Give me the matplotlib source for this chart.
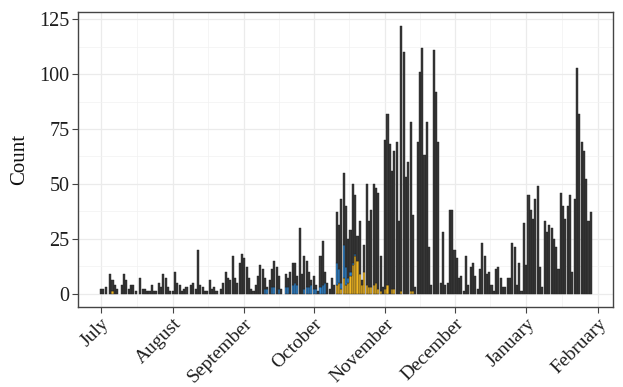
import matplotlib
matplotlib.use("Agg")
import matplotlib.pyplot as plt
import matplotlib.dates as mdates
import numpy as np
import pandas as pd

plt.rcParams['font.family'] = ['Liberation Serif', 'DejaVu Serif']

# daily totals, one list per month (July -> January)
jul = [2, 2, 3, 0, 9, 6, 4, 2, 0, 4, 9, 6, 2, 4, 4, 1, 0, 7, 2, 2, 1, 1, 4, 1, 1, 5, 3, 9, 7, 3, 1]
aug = [1, 10, 5, 4, 1, 2, 3, 0, 4, 5, 2, 20, 4, 3, 1, 1, 6, 2, 3, 1, 0, 2, 5, 10, 7, 6, 17, 7, 5, 14, 18]
sep = [16, 12, 7, 2, 1, 4, 8, 13, 11, 7, 3, 6, 11, 15, 12, 8, 2, 0, 9, 7, 10, 14, 14, 8, 30, 9, 17, 15, 10, 6]
oct_ = [8, 4, 1, 17, 24, 10, 5, 2, 7, 4, 37, 31, 43, 55, 40, 25, 29, 50, 45, 26, 33, 6, 22, 50, 33, 38, 50, 48,
        46, 17, 3]
nov = [70, 82, 68, 56, 65, 69, 33, 122, 110, 53, 60, 78, 36, 3, 69, 101, 112, 63, 78, 21, 4, 111, 92, 69, 5, 28,
       4, 5, 38, 38]
dec = [20, 16, 7, 8, 1, 17, 4, 12, 14, 8, 2, 11, 23, 17, 9, 10, 4, 1, 11, 12, 7, 3, 3, 7, 7, 23, 21, 4, 14, 1, 32]
jan = [13, 45, 38, 34, 43, 49, 12, 3, 33, 28, 31, 30, 25, 21, 11, 46, 40, 34, 40, 45, 10, 43, 103, 82, 69, 65,
       52, 33, 37]

# coloured sub-counts
blue_dates = ["2020-09-10", "2020-09-11", "2020-09-13", "2020-09-14", "2020-09-16", "2020-09-19", "2020-09-20",
              "2020-09-22", "2020-09-23", "2020-09-24", "2020-09-27", "2020-09-28", "2020-09-29", "2020-09-30",
              "2020-10-01", "2020-10-02", "2020-10-04", "2020-10-05", "2020-10-06",
              "2020-10-11", "2020-10-12", "2020-10-13", "2020-10-14", "2020-10-15", "2020-10-16", "2020-10-17",
              "2020-10-18", "2020-10-19"]
blue_counts = [2, 2, 3, 3, 2, 3, 3, 4, 5, 4, 2, 3, 3, 4, 2, 2, 3, 4, 5,
               10, 6, 3, 15, 8, 2, 2, 1, 1]
yellow_dates = ["2020-07-06", "2020-10-11", "2020-10-12", "2020-10-13", "2020-10-14", "2020-10-15", "2020-10-16",
                "2020-10-17", "2020-10-18", "2020-10-19", "2020-10-20", "2020-10-21", "2020-10-22", "2020-10-23",
                "2020-10-24", "2020-10-25", "2020-10-26", "2020-10-27", "2020-10-28", "2020-10-29", "2020-10-30",
                "2020-11-01", "2020-11-02", "2020-11-04", "2020-11-05", "2020-11-08", "2020-11-12", "2020-11-13"]
yellow_counts = [1, 4, 5, 2, 7, 4, 5, 8, 13, 17, 15, 9, 4, 10, 4, 3, 3, 4, 5, 2, 1, 2, 4, 2, 2, 1, 1, 1]

month_labels = ["July", "August", "September", "October", "November", "December", "January", "February"]

total = np.array(jul + aug + sep + oct_ + nov + dec + jan, dtype=float)
days = pd.date_range("2020-07-01", periods=len(total), freq="D")

blue = pd.Series(0.0, index=days)
blue[pd.to_datetime(blue_dates)] = blue_counts
yellow = pd.Series(0.0, index=days)
yellow[pd.to_datetime(yellow_dates)] = yellow_counts
blue = blue.values
yellow = yellow.values
dark = total - blue - yellow

x = mdates.date2num(days)
DARK = "#383838"
BLUE = "#2f86d0"
YEL = "#f2b722"

fig = plt.figure(figsize=(6.23, 3.87), dpi=100)
ax = fig.add_axes([0.125, 0.207, 0.859, 0.762])

def draw(vals, bottom, color):
    m = vals > 0
    ax.bar(x[m], vals[m], bottom=bottom[m], width=0.9, color=color,
           edgecolor="#1e1e1e", linewidth=0.3, zorder=3)

draw(yellow, np.zeros_like(total), YEL)
draw(blue, yellow, BLUE)
draw(dark, yellow + blue, DARK)

# axes / grid in the style of theme_bw
month_starts = pd.date_range("2020-07-01", periods=len(month_labels), freq="MS")
major = mdates.date2num(month_starts)
minor = (major[:-1] + major[1:]) / 2
ax.set_xticks(major)
ax.set_xticks(minor, minor=True)
ax.set_xticklabels(month_labels, rotation=45, ha="right", rotation_mode="anchor", fontsize=14)
ax.set_yticks([0, 25, 50, 75, 100, 125])
ax.set_yticks([12.5, 37.5, 62.5, 87.5, 112.5], minor=True)

start = mdates.date2num(pd.Timestamp("2020-07-01"))
ax.set_xlim(start - 10.0, start + 221.6)
ax.set_ylim(-6.1, 128.3)

ax.grid(which="major", color="#ebebeb", linewidth=0.9, zorder=0)
ax.grid(which="minor", color="#f2f2f2", linewidth=0.5, zorder=0)
ax.set_axisbelow(True)

for s in ax.spines.values():
    s.set_color("#444444")
    s.set_linewidth(1.0)
ax.tick_params(which="major", length=4, width=0.8, color="#444444", labelcolor="#1e1e1e", pad=2)
ax.tick_params(axis="y", labelsize=14.5)
ax.tick_params(which="minor", length=0)
ax.set_ylabel("Count", fontsize=15, color="#111111", labelpad=7)

fig.savefig("out.png", dpi=100)
